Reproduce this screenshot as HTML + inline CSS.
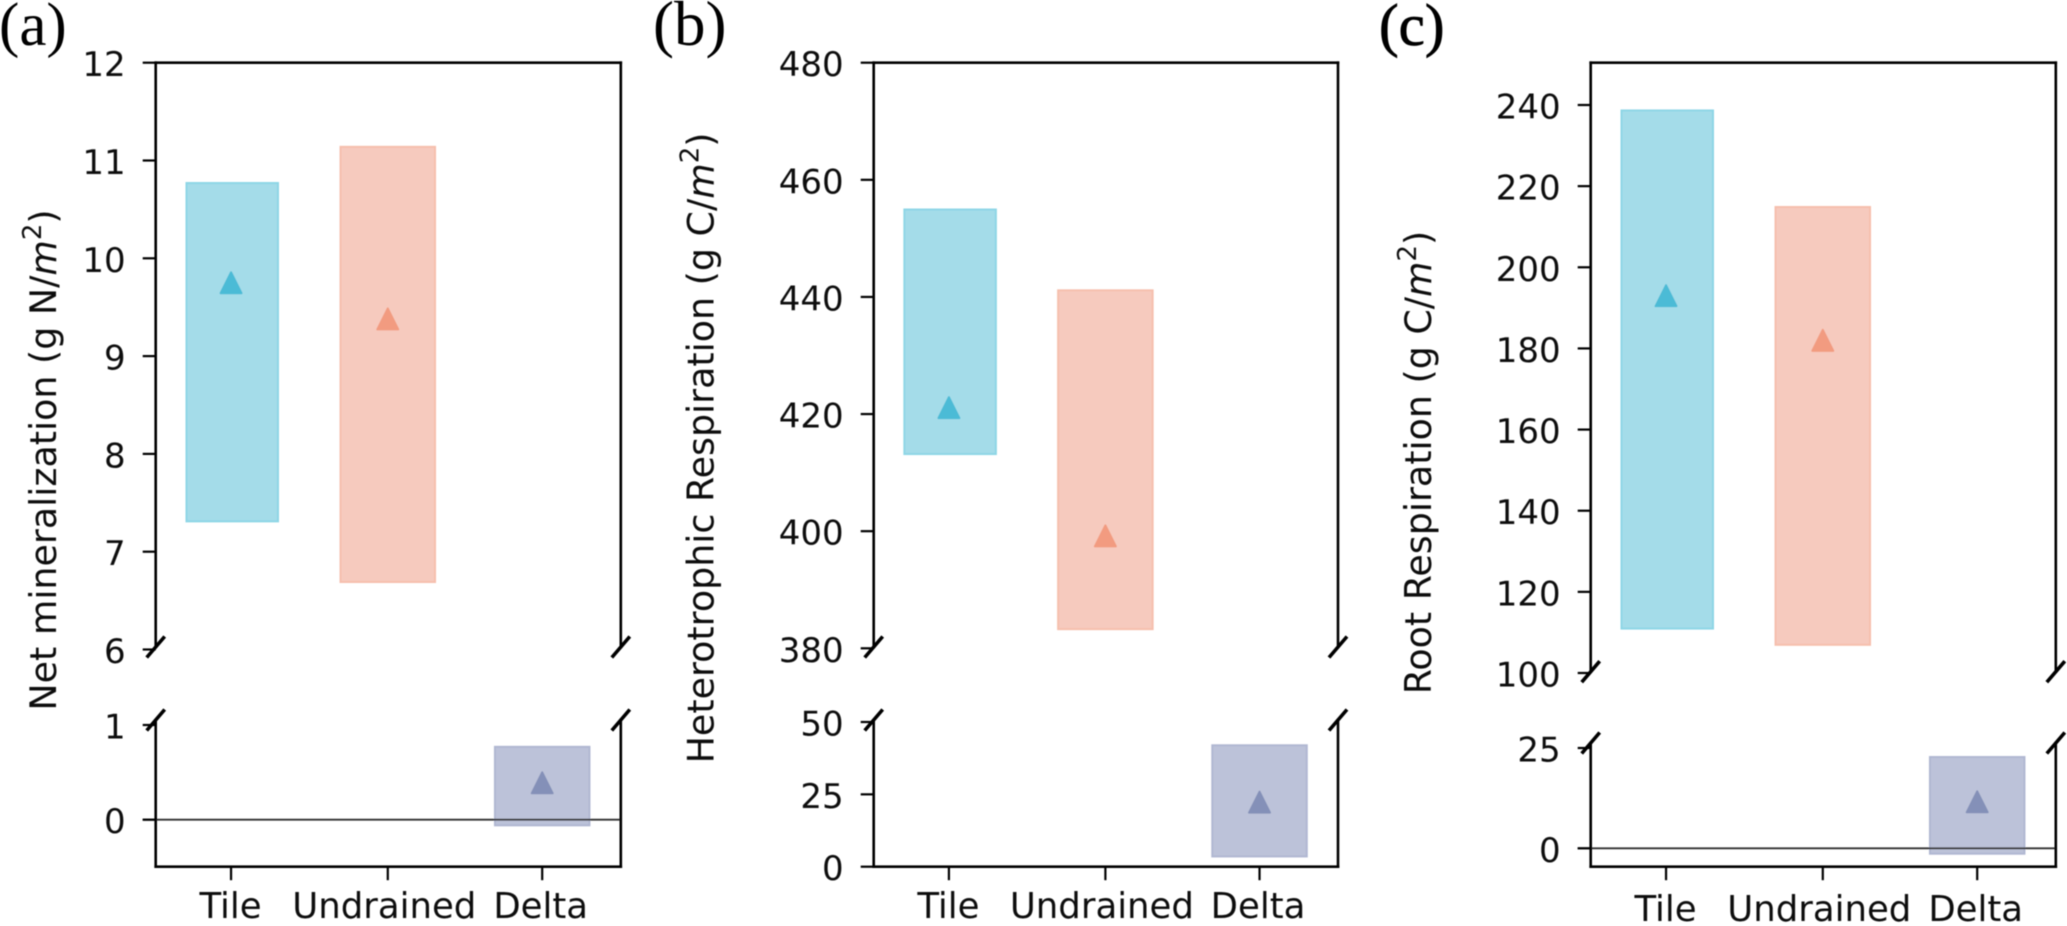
<!DOCTYPE html>
<html lang="en">
<head>
<meta charset="utf-8">
<title>Net mineralization and respiration ranges</title>
<style>
html,body{margin:0;padding:0;background:#fff;width:2067px;height:926px;overflow:hidden}
svg{display:block}
text{font-family:"DejaVu Sans","Liberation Sans",sans-serif;fill:#111}
.tick{font-size:34px}
.xtick{font-size:35.5px}
.axis-title{font-size:36.4px}
.panel-label{font-family:"Liberation Serif",serif;fill:#000}
</style>
</head>
<body>
<svg id="figure" xmlns="http://www.w3.org/2000/svg" width="2067" height="926" viewBox="0 0 2067 926">
  <defs><filter id="soft" x="-2%" y="-2%" width="104%" height="104%"><feGaussianBlur stdDeviation="0.6"/></filter></defs>
  <g id="root" filter="url(#soft)">
    <text class="panel-label" x="-1" y="45" font-size="61">(a)</text>
    <text class="panel-label" x="653" y="45" font-size="63">(b)</text>
    <text class="panel-label" x="1379" y="45" font-size="59" stroke="#000" stroke-width="0.8">(c)</text>

    <text class="axis-title" text-anchor="middle" transform="translate(56,460) rotate(-90)">Net mineralization (g N/<tspan font-style="italic">m</tspan><tspan font-size="26" dy="-15">2</tspan><tspan dy="15">)</tspan></text>
    <text class="axis-title" text-anchor="middle" transform="translate(713.5,448) rotate(-90)">Heterotrophic Respiration (g C/<tspan font-style="italic">m</tspan><tspan font-size="26" dy="-15">2</tspan><tspan dy="15">)</tspan></text>
    <text class="axis-title" text-anchor="middle" transform="translate(1431,462.5) rotate(-90)">Root Respiration (g C/<tspan font-style="italic">m</tspan><tspan font-size="26" dy="-15">2</tspan><tspan dy="15">)</tspan></text>
  </g>
</svg>
<script>
// ---- chart data ----
const categories = ['Tile', 'Undrained', 'Delta'];

const aUpperTicks = [6, 7, 8, 9, 10, 11, 12];
const aLowerTicks = [0, 1];
const aBarLow = [7.30, 6.68, -0.07];
const aBarHigh = [10.78, 11.15, 0.78];
const aMean = [9.75, 9.38, 0.39];

const bUpperTicks = [380, 400, 420, 440, 460, 480];
const bLowerTicks = [0, 25, 50];
const bBarLow = [413, 383.1, 3.2];
const bBarHigh = [455.1, 441.3, 42.3];
const bMean = [421.1, 399.2, 22.3];

const cUpperTicks = [100, 120, 140, 160, 180, 200, 220, 240];
const cLowerTicks = [0, 25];
const cBarLow = [110.7, 106.7, -1.6];
const cBarHigh = [238.9, 215.1, 23];
const cMean = [193, 182, 11.6];

// ---- layout ----
const NS = 'http://www.w3.org/2000/svg';
const root = document.getElementById('root');
const fills = ['#a4dce9', '#f6cabe', '#bcc2d9'];
const edges = ['#8ed6e6', '#f6bfad', '#b0b7d2'];
const markers = ['#4bbbd6', '#f29b80', '#8490b8'];
const barWidths = [91.5, 94.5, 94.5];
const barOffsets = [1.2, 0, 0];
const labelOffsets = [-0.5, -3.5, -1.5];
const slotFractions = [0.162, 0.499, 0.831];

const panels = [
  { id: 'a', left: 155.7, right: 620.8, top: 62.7, upEnd: 647, lowStart: 720, bottom: 866.7, labelY: 918,
    up: [6, 649.5, 12, 62.7], low: [0, 819.7, 1, 725], upTicks: aUpperTicks, lowTicks: aLowerTicks,
    barLow: aBarLow, barHigh: aBarHigh, mean: aMean, zero: true },
  { id: 'b', left: 873.7, right: 1338, top: 62.7, upEnd: 647, lowStart: 720, bottom: 866.7, labelY: 918,
    up: [380, 648.3, 480, 62.7], low: [0, 866.7, 50, 722], upTicks: bUpperTicks, lowTicks: bLowerTicks,
    barLow: bBarLow, barHigh: bBarHigh, mean: bMean, zero: false },
  { id: 'c', left: 1590.7, right: 2055.8, top: 62.7, upEnd: 671.7, lowStart: 743, bottom: 866.7, labelY: 921,
    up: [100, 673, 240, 105], low: [0, 848.3, 25, 748], upTicks: cUpperTicks, lowTicks: cLowerTicks,
    barLow: cBarLow, barHigh: cBarHigh, mean: cMean, zero: true }
];

function shape(tag, attrs, parent) {
  const el = document.createElementNS(NS, tag);
  for (const k in attrs) el.setAttribute(k, attrs[k]);
  parent.appendChild(el);
  return el;
}
function linear(a) {
  return function (v) { return a[1] + (v - a[0]) * (a[3] - a[1]) / (a[2] - a[0]); };
}

panels.forEach(function (p) {
  const g = shape('g', {}, root);
  
  

  const yUp = linear(p.up);
  const yLow = linear(p.low);
  const x = function (i) { return p.left + (p.right - p.left) * slotFractions[i]; };

  // bars
  categories.forEach(function (cat, i) {
    const scale = i === 2 ? yLow : yUp;
    const yTop = scale(p.barHigh[i]) + 1;
    const yBot = scale(p.barLow[i]) - 1;
    const cx = x(i) + barOffsets[i];
    const bar = shape('rect', {
      x: cx - barWidths[i] / 2, y: yTop, width: barWidths[i], height: yBot - yTop,
      fill: fills[i], stroke: edges[i], 'stroke-width': 2
    }, g);
    
    
  });

  // zero reference line
  if (p.zero) {
    const zl = shape('line', {
      x1: p.left - 13, x2: p.right, y1: yLow(0), y2: yLow(0), stroke: '#333', 'stroke-width': 1.8
    }, g);
    
    
  }

  // mean markers
  categories.forEach(function (cat, i) {
    const scale = i === 2 ? yLow : yUp;
    const my = scale(p.mean[i]);
    const mx = x(i);
    const m = shape('polygon', {
      points: (mx - 10.5) + ',' + (my + 10.5) + ' ' + (mx + 10.5) + ',' + (my + 10.5) + ' ' + mx + ',' + (my - 10.5),
      fill: markers[i], stroke: markers[i], 'stroke-width': 2, 'stroke-linejoin': 'round'
    }, g);
    
    
  });

  // spines
  const spineStyle = { stroke: '#000', 'stroke-width': 2.6, 'stroke-linecap': 'square', fill: 'none' };
  [
    ['spine-top', p.left, p.top, p.right, p.top],
    ['spine-bottom', p.left, p.bottom, p.right, p.bottom],
    ['spine-left-upper', p.left, p.top, p.left, p.upEnd],
    ['spine-right-upper', p.right, p.top, p.right, p.upEnd],
    ['spine-left-lower', p.left, p.lowStart, p.left, p.bottom],
    ['spine-right-lower', p.right, p.lowStart, p.right, p.bottom]
  ].forEach(function (s) {
    const ln = shape('line', Object.assign({ x1: s[1], y1: s[2], x2: s[3], y2: s[4] }, spineStyle), g);
    
    
  });

  // axis break marks
  [p.left, p.right].forEach(function (bx) {
    [p.upEnd, p.lowStart].forEach(function (by) {
      const b = shape('line', {
        x1: bx - 9, y1: by + 10.5, x2: bx + 9, y2: by - 10.5, stroke: '#000', 'stroke-width': 3.6
      }, g);
      
      
    });
  });

  // y ticks
  function yTicks(values, scale) {
    values.forEach(function (v) {
      const ty = scale(v);
      const t = shape('line', {
        x1: p.left - 13, x2: p.left, y1: ty, y2: ty, stroke: '#000', 'stroke-width': 2.2
      }, g);
      
      
      const lab = shape('text', { x: p.left - 30, y: ty + 13.5, 'text-anchor': 'end', class: 'tick' }, g);
      lab.textContent = String(v);
      
      
    });
  }
  yTicks(p.upTicks, yUp);
  yTicks(p.lowTicks, yLow);

  // x ticks
  categories.forEach(function (cat, i) {
    const tx = x(i);
    const t = shape('line', {
      x1: tx, x2: tx, y1: p.bottom, y2: p.bottom + 13.5, stroke: '#000', 'stroke-width': 2.2
    }, g);
    
    
    const lab = shape('text', { x: tx + labelOffsets[i], y: p.labelY, 'text-anchor': 'middle', class: 'xtick' }, g);
    lab.textContent = cat;
    
    
  });
});
</script>
</body>
</html>
